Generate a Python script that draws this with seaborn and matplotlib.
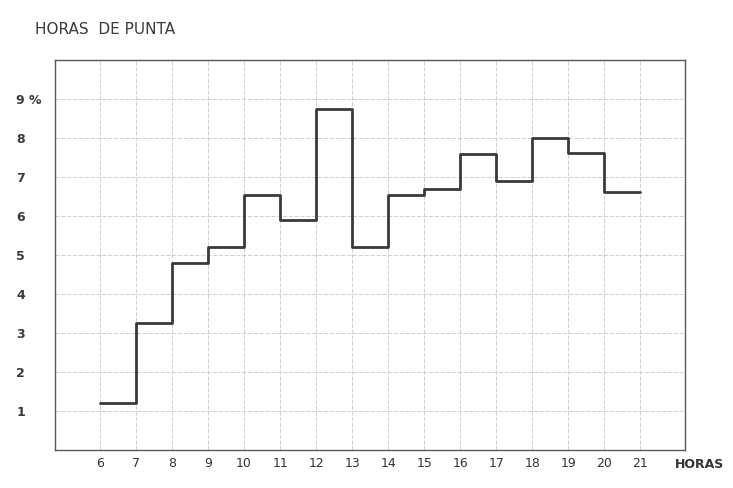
import pandas as pd
import seaborn as sns
from matplotlib import pyplot as plt

# porcentaje de viajes por hora
horas = [6, 7, 8, 9, 10, 11, 12, 13, 14, 15, 16, 17, 18, 19, 20]
porcentaje = [1.2, 3.25, 4.8, 5.2, 6.55, 5.9, 8.75, 5.2, 6.55, 6.7, 7.6, 6.9, 8.0, 7.62, 6.62]
xticks = list(range(6, 22))
yticks = list(range(1, 10))
ylabels = ["1", "2", "3", "4", "5", "6", "7", "8", "9 %"]

sns.set_theme(style="white")
plt.rcParams['font.family'] = ['DejaVu Sans']

# escalones: se repite el ultimo valor al final de la hora 21
df = pd.DataFrame({"hora": horas + [21], "pct": porcentaje + [porcentaje[-1]]})

fig = plt.figure(figsize=(7.33, 4.88), dpi=100)
ax = fig.add_axes([0.075, 0.078, 0.86, 0.799])

sns.lineplot(data=df, x="hora", y="pct", drawstyle="steps-post",
             estimator=None, color="#3a3a3a", linewidth=2.0, ax=ax)

ax.set_xlim(4.75, 22.25)
ax.set_ylim(0, 10)
ax.set_xticks(xticks)
ax.set_xticklabels([str(h) for h in xticks], fontsize=9, color="#333333")
ax.set_yticks(yticks)
ax.set_yticklabels(ylabels, fontsize=9, fontweight="bold", color="#3a3a3a", ha="left")
ax.tick_params(axis="x", length=0, pad=5)
ax.tick_params(axis="y", length=0, pad=28)

ax.grid(True, which="major", color="#c4cbc7", linewidth=0.6, linestyle=(0, (5, 2)))

for s in ax.spines.values():
    s.set_color("#555a57")
    s.set_linewidth(1.0)

ax.set_xlabel("")
ax.set_ylabel("")
ax.text(22.65, -0.2, "HORAS", fontsize=9, fontweight="bold", color="#333333",
        ha="center", va="top", transform=ax.transData, clip_on=False)

fig.text(0.048, 0.94, "HORAS  DE PUNTA", fontsize=11, color="#3a3a3a", ha="left", va="center")

fig.savefig("out.png", dpi=100, facecolor="white")
